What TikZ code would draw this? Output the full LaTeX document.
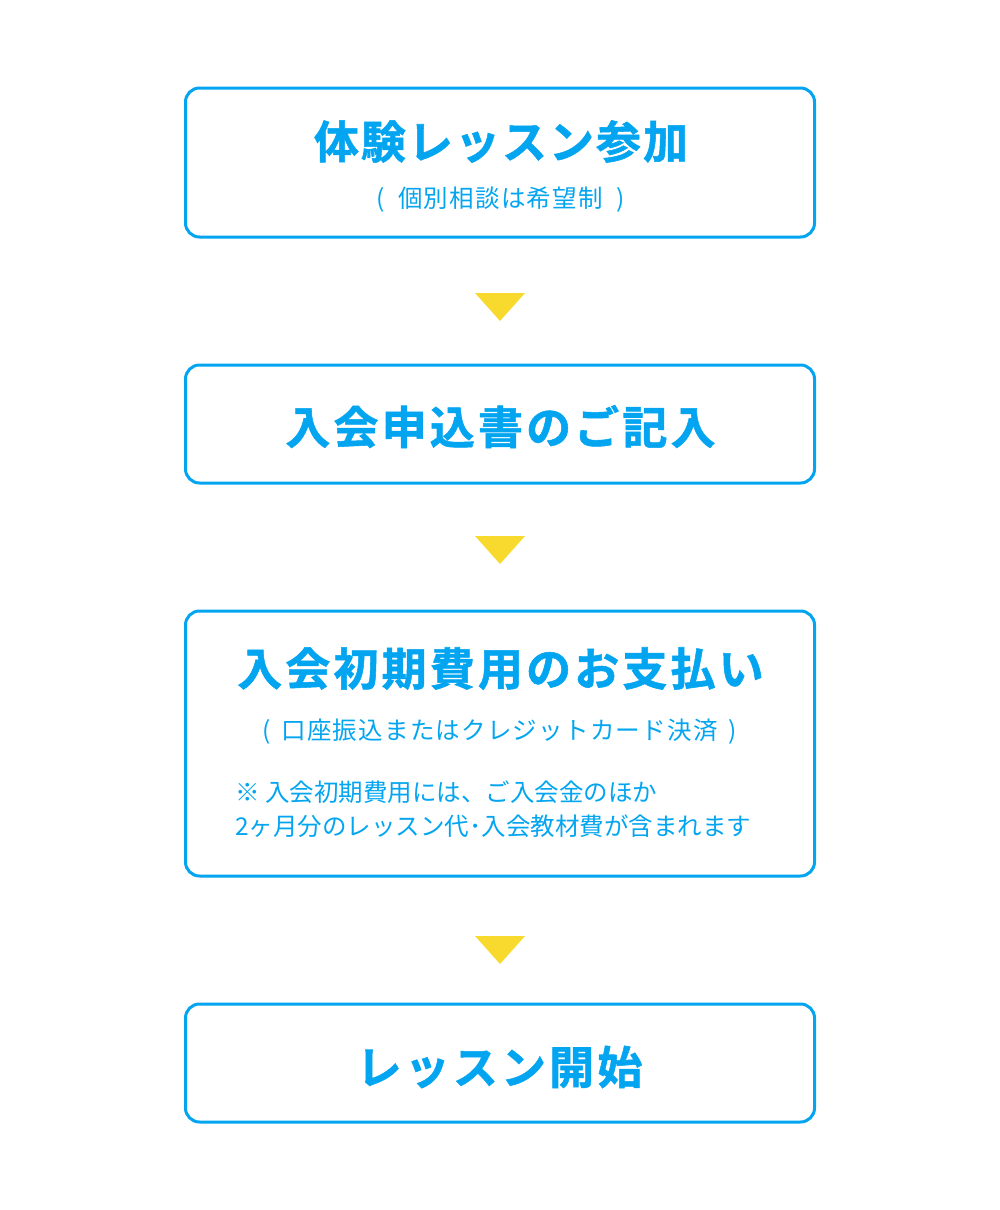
\documentclass[tikz,border=0pt]{standalone}
\usepackage{fontspec}
\newfontfamily\jp{Noto Sans CJK JP}
\newfontfamily\jpsub[LetterSpace=5]{Noto Sans CJK JP}
\newfontfamily\jpb[LetterSpace=7,FakeBold=1.2]{Noto Sans CJK JP Bold}
\newfontfamily\jpbn[LetterSpace=4.5,FakeBold=1.2]{Noto Sans CJK JP Bold}
\definecolor{cblue}{HTML}{03A5F0}
\definecolor{cyel}{HTML}{F8DA2E}
\begin{document}
\begin{tikzpicture}[x=1pt,y=-1pt,
  stepbox/.style={draw=cblue, line width=3pt, rounded corners=14pt, minimum width=629pt, inner sep=0pt},
  ttl/.style={text=cblue, inner sep=0pt, anchor=base, font=\jpb\fontsize{45}{50}\selectfont},
  ttln/.style={ttl, font=\jpbn\fontsize{45}{50}\selectfont},
  subt/.style={text=cblue, inner sep=0pt, anchor=base, font=\jpsub\fontsize{24.5}{28}\selectfont},
  notet/.style={text=cblue, inner sep=0pt, anchor=base west, font=\jp\fontsize{24.5}{33}\selectfont},
  tri/.style={fill=cyel}]
\useasboundingbox (0,0) rectangle (1000,1210);
% boxes
\node[stepbox, minimum height=149pt] (b1) at (500,162.5) {};
\node[stepbox, minimum height=118pt] (b2) at (500,424) {};
\node[stepbox, minimum height=265pt] (b3) at (500,743.5) {};
\node[stepbox, minimum height=118pt] (b4) at (500,1063) {};
% texts
\node[ttln] (t1) at (501,158.5) {体験レッスン参加};
\node[subt] (s1) at (500.5,207) {(\hspace{7pt} 個別相談は希望制 \hspace{7pt})};
\node[ttl] (t2) at (500.5,444) {入会申込書のご記入};
\node[ttl] (t3) at (500.5,685.5) {入会初期費用のお支払い};
\node[subt] (s3) at (499.5,739.5) {(\hspace{4pt} 口座振込またはクレジットカード決済 \hspace{4pt})};
\node[notet] (n1) at (235,801) {※ 入会初期費用には、ご入会金のほか};
\node[notet] (n2) at (235,835) {2ヶ月分のレッスン代･入会教材費が含まれます};
\node[ttl] (t4) at (499.5,1084) {レッスン開始};
% arrows
\path[tri] (475,293) -- (525,293) -- (500,321) -- cycle;
\path[tri] (475,536) -- (525,536) -- (500,564) -- cycle;
\path[tri] (475,936) -- (525,936) -- (500,964) -- cycle;
\end{tikzpicture}
\end{document}
